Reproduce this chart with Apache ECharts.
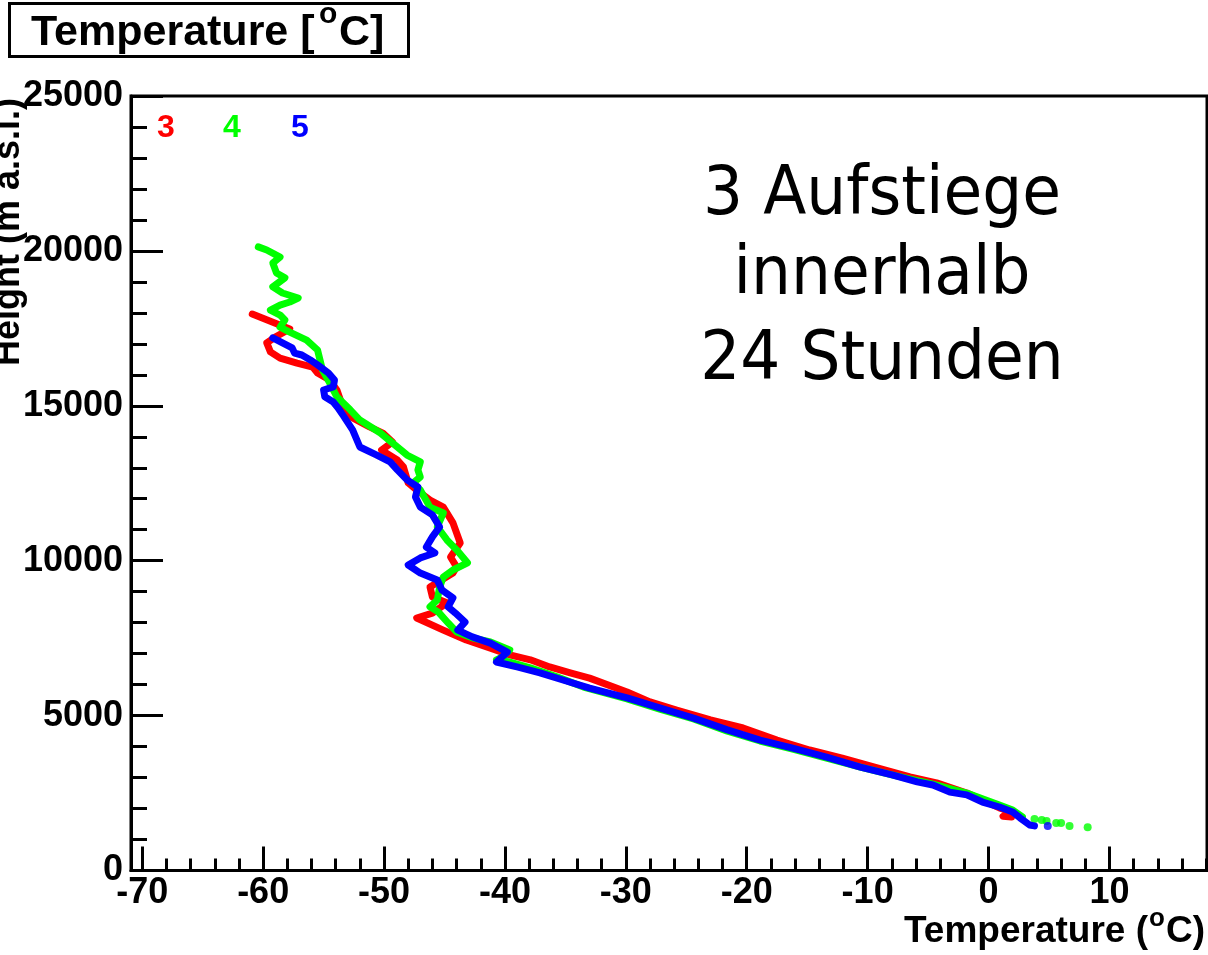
<!DOCTYPE html>
<html>
<head>
<meta charset="utf-8">
<title>Temperature profiles</title>
<script src="https://cdn.jsdelivr.net/npm/echarts@6/dist/echarts.min.js"></script>
<style>
  html, body { margin: 0; padding: 0; background: #ffffff; }
  #chart { width: 1208px; height: 955px; }
</style>
</head>
<body>
<div id="chart"></div>
<script>
// Axis ranges and tick positions
const xRange = [-70.93, 18.07];
const yRange = [0, 25000];
const xMajorTicks = [-70, -60, -50, -40, -30, -20, -10, 0, 10];
const xMinorTicks = [-68, -66, -64, -62, -58, -56, -54, -52, -48, -46, -44, -42,
  -38, -36, -34, -32, -28, -26, -24, -22, -18, -16, -14, -12, -8, -6, -4, -2,
  2, 4, 6, 8, 12, 14, 16, 18];

// Texts (the degree sign is written as a raised "o")
const titleParts = ['Temperature [', 'o', 'C]'];
const xAxisTitleParts = ['Temperature (', 'o', 'C)'];
const yAxisTitle = 'Height (m a.s.l.)';
const noteLines = ['3 Aufstiege', 'innerhalb', '24 Stunden'];
const launchLabels = ['3', '4', '5'];
const launchColors = ['#ff0000', '#00ff00', '#0000ff'];

// Sounding 3: [temperature °C, height m]
const flight3 = [
  [-60.9, 17960], [-57.8, 17480], [-59.0, 17220], [-59.7, 17030], [-59.4, 16740],
  [-58.6, 16540], [-57.2, 16380], [-55.9, 16250], [-55.5, 16060], [-54.5, 15830],
  [-53.9, 15510], [-53.7, 15290], [-53.4, 14960], [-52.6, 14610], [-51.2, 14320],
  [-50.1, 14120], [-49.3, 13830], [-50.2, 13570], [-48.9, 13250], [-48.4, 13030],
  [-48.0, 12510], [-47.3, 12280], [-46.2, 11960], [-45.1, 11730], [-44.3, 11220],
  [-43.7, 10570], [-44.5, 10120], [-44.0, 9800], [-44.3, 9600], [-46.2, 9150],
  [-46.0, 8830], [-44.8, 8640], [-46.0, 8310], [-47.3, 8150], [-45.1, 7760],
  [-43.2, 7440], [-41.2, 7180], [-39.6, 6960], [-37.9, 6800], [-36.3, 6570],
  [-34.6, 6380], [-33.0, 6210], [-29.9, 5760], [-28.0, 5440], [-25.8, 5180],
  [-23.0, 4860], [-20.3, 4600], [-17.5, 4210], [-14.8, 3890], [-12.1, 3630],
  [-9.2, 3310], [-6.5, 3020], [-4.3, 2830], [-1.8, 2500], [0.9, 2020],
  [1.9, 1890], [1.2, 1750], [1.9, 1730]
];

// Sounding 4
const flight4 = [
  [-60.4, 20130], [-59.7, 20030], [-58.6, 19800], [-59.2, 19610], [-58.9, 19290],
  [-58.2, 19130], [-59.2, 18840], [-58.4, 18640], [-57.1, 18480], [-57.8, 18350],
  [-58.6, 18250], [-59.4, 18090], [-58.6, 17930], [-58.2, 17770], [-58.6, 17540],
  [-57.8, 17380], [-56.4, 17120], [-55.5, 16800], [-55.3, 16480], [-55.1, 16160],
  [-54.5, 15740], [-53.9, 15290], [-52.8, 14870], [-52.0, 14540], [-50.3, 14120],
  [-48.9, 13670], [-48.1, 13410], [-47.0, 13190], [-47.2, 12930], [-47.0, 12700],
  [-47.6, 12510], [-47.0, 12280], [-46.2, 11730], [-45.1, 11540], [-45.6, 11090],
  [-44.8, 10670], [-44.0, 10350], [-43.1, 9930], [-44.3, 9700], [-45.1, 9470],
  [-45.4, 9150], [-45.6, 8730], [-46.2, 8510], [-45.5, 8340], [-44.7, 7990],
  [-44.0, 7700], [-42.6, 7500], [-41.2, 7380], [-39.6, 7120], [-40.2, 6890],
  [-40.7, 6800], [-39.6, 6730], [-37.9, 6540], [-35.7, 6250], [-33.5, 5920],
  [-29.9, 5540], [-27.2, 5210], [-24.4, 4890], [-21.6, 4500], [-18.9, 4180],
  [-16.2, 3920], [-13.4, 3630], [-10.6, 3340], [-7.9, 3080], [-4.6, 2790],
  [-1.8, 2500], [0.9, 2110], [2.0, 1950], [2.8, 1730]
];
const flight4Tail = [
  [3.8, 1660], [4.4, 1630], [4.8, 1600], [5.6, 1530], [6.0, 1530],
  [6.7, 1440], [8.2, 1400]
];

// Sounding 5
const flight5 = [
  [-59.2, 17190], [-58.4, 17030], [-57.6, 16870], [-57.4, 16700], [-56.8, 16640],
  [-56.1, 16480], [-55.5, 16320], [-54.6, 16060], [-54.1, 15830], [-54.2, 15610],
  [-55.0, 15510], [-54.9, 15290], [-54.2, 15120], [-53.8, 14930], [-53.4, 14700],
  [-52.6, 14220], [-52.0, 13670], [-50.6, 13410], [-49.5, 13190], [-48.9, 12930],
  [-48.1, 12610], [-47.2, 12380], [-47.4, 12060], [-47.0, 11730], [-46.0, 11480],
  [-45.4, 11090], [-46.0, 10770], [-46.5, 10440], [-45.8, 10250], [-47.0, 10090],
  [-48.0, 9860], [-47.0, 9600], [-45.6, 9380], [-45.2, 9050], [-44.3, 8800],
  [-44.7, 8510], [-44.1, 8310], [-43.3, 8020], [-43.9, 7760], [-42.7, 7540],
  [-41.2, 7340], [-39.8, 7050], [-40.7, 6730], [-39.0, 6570], [-37.1, 6380],
  [-35.2, 6150], [-33.0, 5890], [-29.9, 5570], [-27.2, 5250], [-24.4, 4920],
  [-21.6, 4540], [-18.9, 4210], [-16.2, 3950], [-13.4, 3660], [-10.6, 3340],
  [-7.9, 3080], [-5.9, 2860], [-4.6, 2760], [-3.2, 2530], [-1.8, 2440],
  [-0.5, 2210], [0.9, 2050], [2.0, 1890], [2.6, 1700], [3.4, 1470], [3.8, 1440]
];
const flight5Tail = [[4.9, 1440]];

const FONT_BOLD = "'Liberation Sans', Arial, Helvetica, sans-serif";
const FONT_NOTE = "'DejaVu Sans', sans-serif";

const chart = echarts.init(document.getElementById('chart'), null, { renderer: 'canvas' });

function profileLine(name, data, color, z) {
  return {
    name: name, type: 'line', data: data, xAxisIndex: 0, yAxisIndex: 0,
    showSymbol: false, symbol: 'none', z: z, clip: true,
    lineStyle: { color: color, width: 7, cap: 'round', join: 'round' }
  };
}
function profileDots(name, data, color, z) {
  return {
    name: name, type: 'scatter', data: data, xAxisIndex: 0, yAxisIndex: 0,
    symbol: 'circle', symbolSize: 8, z: z,
    itemStyle: { color: color }
  };
}
function label(text, x, y, font, color, align, extra) {
  const el = { type: 'text', x: x, y: y, z: 11,
    style: { text: text, fill: color, font: font, align: align, verticalAlign: 'middle' } };
  return Object.assign(el, extra || {});
}

const option = {
  animation: false,
  backgroundColor: '#ffffff',
  grid: {
    left: 131, right: 1, top: 96, bottom: 84.5,
    show: true, borderColor: '#000000', borderWidth: 3, backgroundColor: 'transparent'
  },
  xAxis: [
    {
      type: 'value', min: xRange[0], max: xRange[1], position: 'bottom',
      axisLine: { show: true, onZero: false, lineStyle: { color: '#000', width: 3 } },
      axisTick: { show: true, inside: true, length: 24, customValues: xMajorTicks,
        lineStyle: { color: '#000', width: 3 } },
      axisLabel: { show: true, customValues: xMajorTicks, margin: 5,
        formatter: function (v) { return String(v); },
        color: '#000', fontSize: 36, fontWeight: 'bold', fontFamily: FONT_BOLD },
      splitLine: { show: false }
    },
    {
      type: 'value', min: xRange[0], max: xRange[1], position: 'bottom', offset: 0,
      axisLine: { show: false, onZero: false },
      axisTick: { show: true, inside: true, length: 12, customValues: xMinorTicks,
        lineStyle: { color: '#000', width: 3 } },
      axisLabel: { show: false },
      splitLine: { show: false }
    }
  ],
  yAxis: {
    type: 'value', min: yRange[0], max: yRange[1], interval: 5000, position: 'left',
    axisLine: { show: true, onZero: false, lineStyle: { color: '#000', width: 3 } },
    axisTick: { show: true, inside: true, length: 32, lineStyle: { color: '#000', width: 3 } },
    minorTick: { show: true, splitNumber: 5, length: 16, lineStyle: { color: '#000', width: 3 } },
    axisLabel: { show: true, margin: 8, color: '#000', fontSize: 36, fontWeight: 'bold',
      fontFamily: FONT_BOLD, formatter: function (v) { return String(v); } },
    splitLine: { show: false }
  },
  series: [
    profileLine('3', flight3, launchColors[0], 2),
    profileLine('4', flight4, launchColors[1], 3),
    profileDots('4 tail', flight4Tail, launchColors[1], 3),
    profileLine('5', flight5, launchColors[2], 4),
    profileDots('5 tail', flight5Tail, launchColors[2], 4)
  ],
  graphic: [
    // title box
    { type: 'rect', shape: { x: 9.5, y: 3.5, width: 399, height: 53 },
      style: { fill: '#ffffff', stroke: '#000000', lineWidth: 3 }, z: 10 },
    label(titleParts[0], 31, 33, 'bold 43px ' + FONT_BOLD, '#000', 'left'),
    label(titleParts[1], 319, 15, 'bold 30px ' + FONT_BOLD, '#000', 'left'),
    label(titleParts[2], 339, 33, 'bold 43px ' + FONT_BOLD, '#000', 'left'),
    // launch numbers
    label(launchLabels[0], 166, 128, 'bold 32px ' + FONT_BOLD, launchColors[0], 'center'),
    label(launchLabels[1], 232, 128, 'bold 32px ' + FONT_BOLD, launchColors[1], 'center'),
    label(launchLabels[2], 300, 128, 'bold 32px ' + FONT_BOLD, launchColors[2], 'center'),
    // annotation block
    label(noteLines[0], 882, 197, '63px ' + FONT_NOTE, '#000', 'center', { scaleY: 1.06 }),
    label(noteLines[1], 882, 277, '63px ' + FONT_NOTE, '#000', 'center', { scaleY: 1.06 }),
    label(noteLines[2], 882, 362, '63px ' + FONT_NOTE, '#000', 'center', { scaleY: 1.06 }),
    // x axis title
    label(xAxisTitleParts[2], 1205, 932, 'bold 37px ' + FONT_BOLD, '#000', 'right'),
    label(xAxisTitleParts[1], 1165, 919, 'bold 26px ' + FONT_BOLD, '#000', 'right'),
    label(xAxisTitleParts[0], 1148, 932, 'bold 37px ' + FONT_BOLD, '#000', 'right'),
    // y axis title
    label(yAxisTitle, 9, 366, 'bold 36px ' + FONT_BOLD, '#000', 'left', { rotation: Math.PI / 2 })
  ]
};

chart.setOption(option);
</script>
</body>
</html>
